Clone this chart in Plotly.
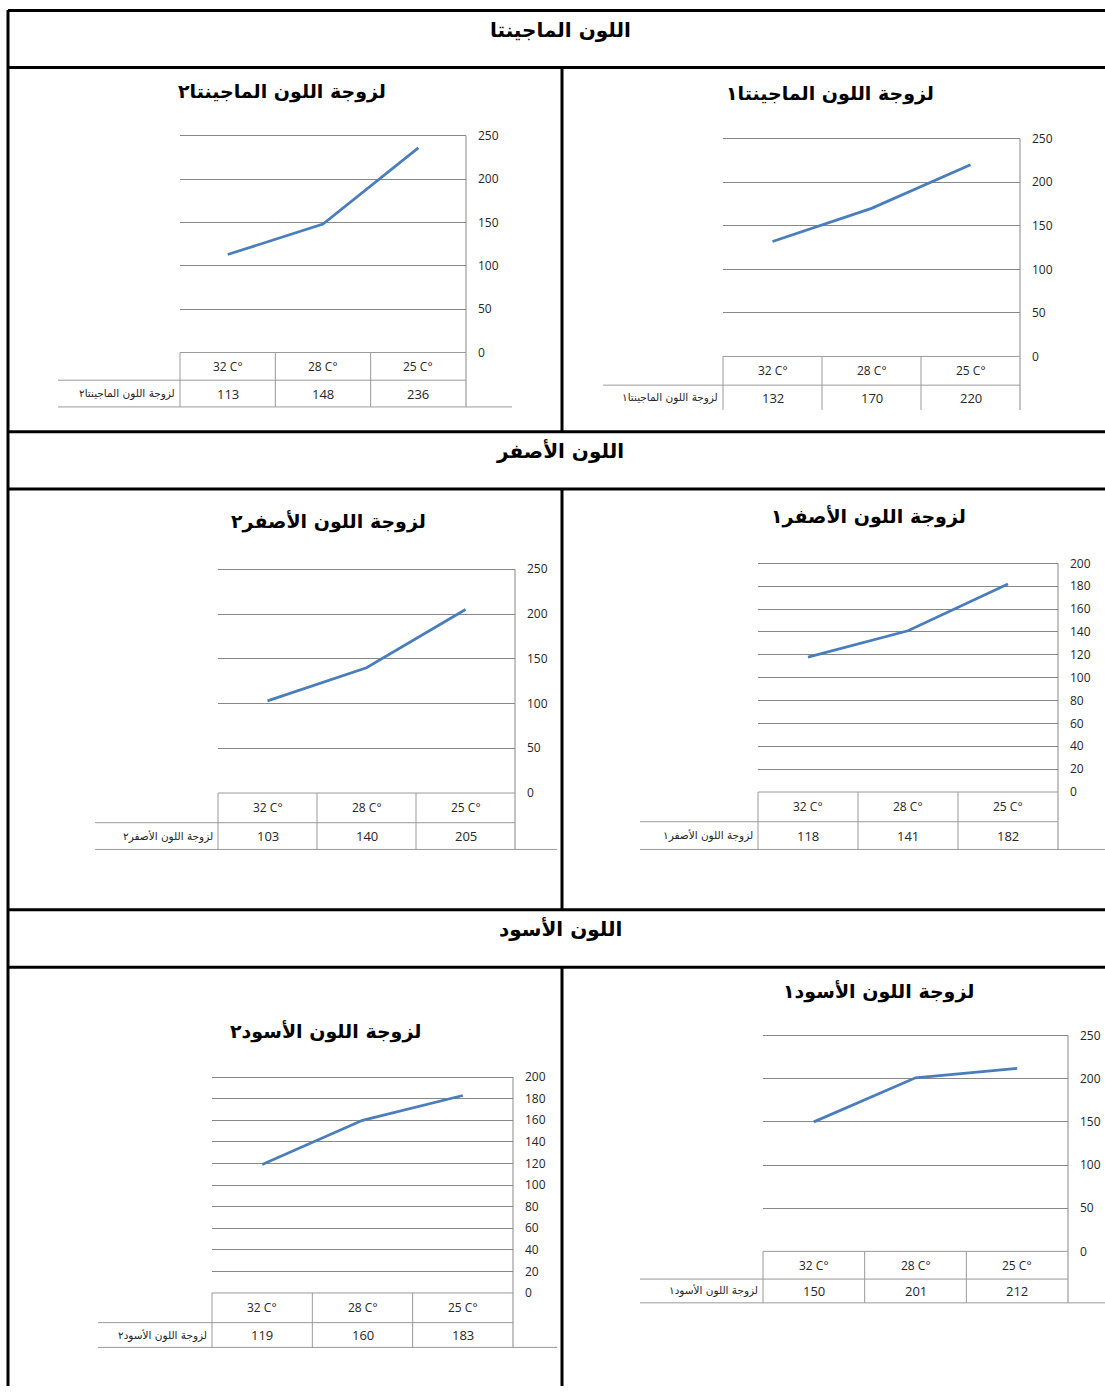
import plotly.graph_objects as go

W, H = 1105, 1394

# ---------------- data ----------------
categories = ["32 C°", "28 C°", "25 C°"]

section_titles = ["اللون الماجينتا", "اللون الأصفر", "اللون الأسود"]

name_magenta1 = "لزوجة اللون الماجينتا١"
name_magenta2 = "لزوجة اللون الماجينتا٢"
name_yellow1 = "لزوجة اللون الأصفر١"
name_yellow2 = "لزوجة اللون الأصفر٢"
name_black1 = "لزوجة اللون الأسود١"
name_black2 = "لزوجة اللون الأسود٢"

magenta1 = [132, 170, 220]
magenta2 = [113, 148, 236]
yellow1 = [118, 141, 182]
yellow2 = [103, 140, 205]
black1 = [150, 201, 212]
black2 = [119, 160, 183]

axis_max = {"m1": 250, "m2": 250, "y1": 200, "y2": 250, "b1": 250, "b2": 200}
axis_step = {"m1": 50, "m2": 50, "y1": 20, "y2": 50, "b1": 50, "b2": 20}

# ---------------- layout geometry (pixels) ----------------
charts = [
    dict(key="m1", name=name_magenta1, vals=magenta1, L=723, R=1020, top=134, bot=354, r1=383, r2=408, lab=603, bl=None, t=(830, 88)),
    dict(key="m2", name=name_magenta2, vals=magenta2, L=180, R=466, top=131, bot=350, r1=378, r2=405, lab=58, bl=512, t=(282, 86)),
    dict(key="y2", name=name_yellow2, vals=yellow2, L=218, R=515, top=569, bot=795, r1=825, r2=852, lab=95, bl=557, t=(328, 521)),
    dict(key="y1", name=name_yellow1, vals=yellow1, L=758, R=1058, top=563, bot=794, r1=824, r2=852, lab=640, bl=1105, t=(868, 516)),
    dict(key="b2", name=name_black2, vals=black2, L=212, R=513, top=1082, bot=1300, r1=1330, r2=1355, lab=98, bl=557, t=(325, 1036)),
    dict(key="b1", name=name_black1, vals=black1, L=763, R=1068, top=1040, bot=1258, r1=1286, r2=1310, lab=640, bl=1105, t=(878, 995)),
]

LINE_COLOR = "#4a7ebb"
GRID = "#878787"
TABLE = "#9a9a9a"
TXT = "#262626"
NUM_FONT = "Open Sans"
AR_FONT = "DejaVu Sans"
PAD = 3  # px of headroom above top gridline so it is drawn

fig = go.Figure()
shapes = []
annotations = []


def px(x):
    return x / W


def py(y):
    return 1 - y / H


for i, c in enumerate(charts):
    n = i + 1
    xa = "x" if n == 1 else f"x{n}"
    ya = "y" if n == 1 else f"y{n}"
    xk = "xaxis" if n == 1 else f"xaxis{n}"
    yk = "yaxis" if n == 1 else f"yaxis{n}"

    span0 = c["bot"] - c["top"]
    ymax = axis_max[c["key"]]
    ytop = ymax * (span0 + PAD) / span0
    top_px = c["top"] - PAD

    fig.add_trace(go.Scatter(
        x=categories, y=c["vals"], mode="lines",
        line=dict(color=LINE_COLOR, width=2.75),
        xaxis=xa, yaxis=ya, showlegend=False, hoverinfo="skip"))

    fig.update_layout(**{
        xk: dict(domain=[px(c["L"]), px(c["R"])], anchor=ya, type="category",
                 categoryorder="array", categoryarray=categories,
                 range=[-0.5, len(categories) - 0.5], showticklabels=False,
                 showgrid=False, zeroline=False, showline=False, fixedrange=True),
        yk: dict(domain=[py(c["bot"]), py(top_px)], anchor=xa, side="right",
                 range=[0, ytop], dtick=axis_step[c["key"]], tick0=0,
                 showgrid=True, gridcolor=GRID, gridwidth=1, zeroline=False,
                 showline=False, ticks="",
                 ticklabelstandoff=11,
                 tickfont=dict(family=NUM_FONT, size=12, color=TXT), fixedrange=True),
    })

    span = c["bot"] - top_px
    wid = c["R"] - c["L"]

    def dy(yp, c=c, span=span):
        return (c["bot"] - yp) / span

    def dx(xp, c=c, wid=wid):
        return (xp - c["L"]) / wid

    xr = f"{xa} domain"
    yr = f"{ya} domain"
    ln = dict(color=TABLE, width=1)
    ncat = len(categories)
    # right axis line down through table
    shapes.append(dict(type="line", xref=xr, yref=yr, x0=1, x1=1, y0=dy(c["top"]), y1=dy(c["r2"]),
                       line=dict(color=GRID, width=1)))
    # table top
    shapes.append(dict(type="line", xref=xr, yref=yr, x0=0, x1=1, y0=0, y1=0, line=ln))
    # row separator
    shapes.append(dict(type="line", xref=xr, yref=yr, x0=dx(c["lab"]), x1=1,
                       y0=dy(c["r1"]), y1=dy(c["r1"]), line=ln))
    # column lines
    for k in range(ncat):
        shapes.append(dict(type="line", xref=xr, yref=yr, x0=k / ncat, x1=k / ncat,
                           y0=0, y1=dy(c["r2"]), line=ln))
    if c["bl"] is not None:
        shapes.append(dict(type="line", xref=xr, yref=yr, x0=dx(c["lab"]), x1=dx(c["bl"]),
                           y0=dy(c["r2"]), y1=dy(c["r2"]), line=ln))

    # table cells
    for cat, v in zip(categories, c["vals"]):
        annotations.append(dict(xref=xa, yref=yr, x=cat, y=dy((c["bot"] + c["r1"]) / 2),
                                xanchor="center", yanchor="middle",
                                text=cat, showarrow=False,
                                font=dict(family=NUM_FONT, size=12, color=TXT)))
        annotations.append(dict(xref=xa, yref=yr, x=cat, y=dy((c["r1"] + c["r2"]) / 2),
                                xanchor="center", yanchor="middle",
                                text=str(v), showarrow=False,
                                font=dict(family=NUM_FONT, size=13, color=TXT)))
    # series label cell
    annotations.append(dict(xref=xr, yref=yr, x=dx(c["L"] - 3), y=dy((c["r1"] + c["r2"]) / 2),
                            xanchor="right", yanchor="middle", text=c["name"], showarrow=False,
                            font=dict(family=AR_FONT, size=10.5, color=TXT)))
    # chart title
    annotations.append(dict(xref="paper", yref="paper", x=px(c["t"][0]), y=py(c["t"][1]),
                            xanchor="center", yanchor="middle",
                            text="<b>" + c["name"] + "</b>", showarrow=False,
                            font=dict(family=AR_FONT, size=19, color="#000000")))

# section headers
for title, ty in zip(section_titles, [24, 449, 932]):
    annotations.append(dict(xref="paper", yref="paper", x=px(560), y=py(ty),
                            xanchor="center", yanchor="middle",
                            text="<b>" + title + "</b>", showarrow=False,
                            font=dict(family=AR_FONT, size=20, color="#000000")))

# document table borders
blk = dict(color="#000000", width=3)
for yb in [4.5, 62, 430, 488, 913, 971]:
    shapes.append(dict(type="line", xref="paper", yref="paper", x0=px(8), x1=1,
                       y0=py(yb), y1=py(yb), line=blk))
shapes.append(dict(type="line", xref="paper", yref="paper", x0=px(8), x1=px(8),
                   y0=py(4), y1=0, line=blk))
for y0, y1 in [(62, 430), (488, 913), (971, 1394)]:
    shapes.append(dict(type="line", xref="paper", yref="paper", x0=px(562), x1=px(562),
                       y0=py(y0), y1=py(y1), line=blk))

fig.update_layout(
    width=W, height=H, margin=dict(l=0, r=0, t=0, b=0),
    paper_bgcolor="white", plot_bgcolor="white",
    shapes=shapes, annotations=annotations, showlegend=False,
)

post = (
    "document.documentElement.style.margin='0';"
    "document.body.style.margin='0';document.body.style.padding='0';"
    "document.documentElement.style.overflow='hidden';document.body.style.overflow='hidden';"
    "var d=document.getElementById('{plot_id}');"
    "d.style.position='fixed';d.style.left='0px';d.style.top='0px';"
)

fig.write_html("out.html", config={"displayModeBar": False}, post_script=post)
